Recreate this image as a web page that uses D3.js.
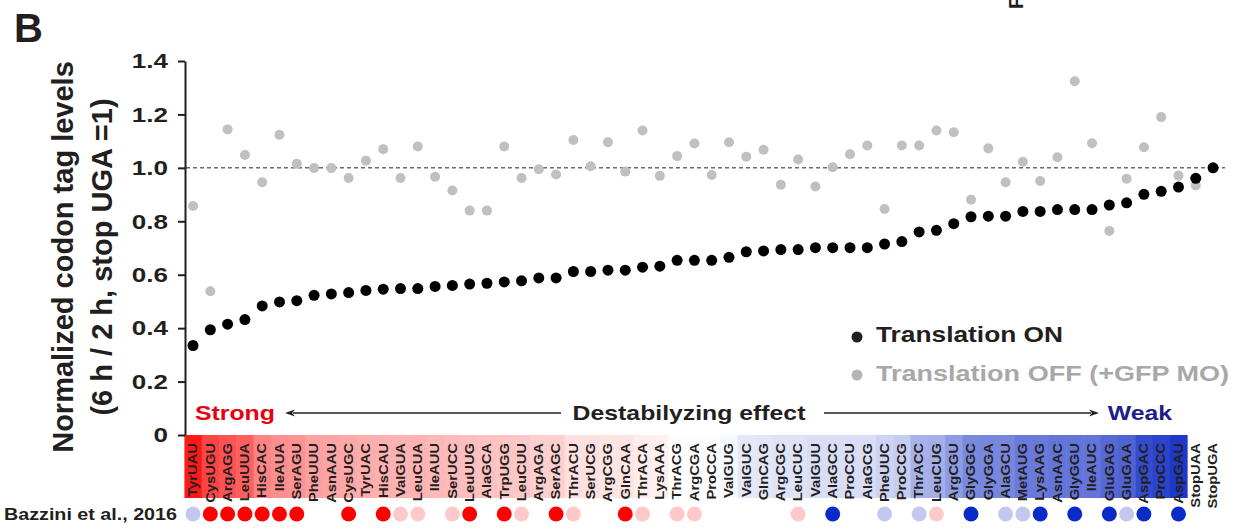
<!DOCTYPE html>
<html>
<head>
<meta charset="utf-8">
<script src="https://cdn.jsdelivr.net/npm/d3@7"></script>
<style>
  body { margin: 0; background: #fff; }
  svg text { font-family: "Liberation Sans", Arial, sans-serif; font-weight: bold; }
</style>
</head>
<body>
<div class="displayArea"></div>
<script>
// codons, sorted by translation ON level
var codons = ["TyrUAU","CysUGU","ArgAGG","LeuUUA","HisCAC","IleAUA","SerAGU","PheUUU","AsnAAU","CysUGC",
  "TyrUAC","HisCAU","ValGUA","LeuCUA","IleAUU","SerUCC","LeuUUG","AlaGCA","TrpUGG","LeuCUU",
  "ArgAGA","SerAGC","ThrACU","SerUCG","ArgCGG","GlnCAA","ThrACA","LysAAA","ThrACG","ArgCGA",
  "ProCCA","ValGUG","ValGUC","GlnCAG","ArgCGC","LeuCUC","ValGUU","AlaGCC","ProCCU","AlaGCG",
  "PheUUC","ProCCG","ThrACC","LeuCUG","ArgCGU","GlyGGC","GlyGGA","AlaGCU","MetAUG","LysAAG",
  "AsnAAC","GlyGGU","IleAUC","GluGAG","GluGAA","AspGAC","ProCCC","AspGAU","StopUAA","StopUGA"];

var transOn = [0.335,0.394,0.415,0.432,0.483,0.498,0.503,0.523,0.528,0.533,
  0.541,0.546,0.548,0.548,0.556,0.560,0.565,0.568,0.573,0.577,
  0.588,0.588,0.612,0.612,0.617,0.617,0.628,0.632,0.654,0.654,
  0.654,0.665,0.686,0.689,0.694,0.694,0.701,0.701,0.701,0.701,
  0.715,0.724,0.760,0.766,0.791,0.817,0.819,0.819,0.837,0.837,
  0.844,0.844,0.844,0.861,0.869,0.901,0.912,0.928,0.961,1.0];

var transOff = [0.857,0.538,1.144,1.048,0.946,1.124,1.015,0.999,0.999,0.962,
  1.027,1.070,0.962,1.080,0.967,0.915,0.840,0.840,1.080,0.962,
  0.995,0.975,1.104,1.006,1.096,0.986,1.140,0.970,1.044,1.091,
  0.973,1.096,1.042,1.068,0.937,1.031,0.930,1.002,1.051,1.084,
  0.846,1.084,1.084,1.140,1.133,0.881,1.073,0.946,1.023,0.951,
  1.040,1.324,1.092,0.764,0.959,1.077,1.190,0.971,0.934,1.0];

// Bazzini et al. 2016 call: 2 strong destab, 1 mild, -1 mild stab, -2 stab, 0 none
var bazzini = [-1,2,2,2,2,2,2,0,0,2, 0,2,1,1,0,1,2,0,2,1,
  0,2,1,0,0,2,1,0,1,1, 0,0,0,0,0,1,0,-2,0,0,
  -1,0,-1,1,0,-2,0,-1,-1,-2, 0,-2,0,-2,-1,-2,0,-2,0,0];

var yTicks = [0,0.2,0.4,0.6,0.8,1.0,1.2,1.4];

var ink = "#231f20",
    sx = 1.24; // horizontal text looks wider than Arial

var svg = d3.select(".displayArea").append("svg")
    .attr("width", 1236).attr("height", 529);

var x = d3.scaleBand().domain(codons).range([184.4, 1221.7]);
var y = d3.scaleLinear().domain([0, 1.4]).range([435, 61]);
var cx = function (c) { return x(c) + x.bandwidth() / 2; };

function wideText(px, py, str, size, anchor, fill) {
    return svg.append("text")
        .attr("transform", `translate(${px},${py}) scale(${sx},1)`)
        .attr("text-anchor", anchor)
        .attr("font-size", size)
        .attr("fill", fill)
        .text(str);
}

// fitted text: stretched to the width it has in the figure
function fitText(px, py, str, size, len, fill) {
    return svg.append("text")
        .attr("x", px).attr("y", py)
        .attr("font-size", size)
        .attr("textLength", len)
        .attr("lengthAdjust", "spacingAndGlyphs")
        .attr("fill", fill)
        .text(str);
}

// panel letter + fragment of neighbouring panel
svg.append("text").attr("x", 14).attr("y", 42).attr("font-size", 40).attr("fill", ink).text("B");
svg.append("text").attr("transform", "translate(1023,9) rotate(-90)")
    .attr("font-size", 20).attr("fill", ink).text("F");

// heat strip
var heatCodons = codons.filter(function (c) { return c.indexOf("Stop") !== 0; });
var heat = d3.scaleLinear().domain([0.335, 0.655, 0.928])
    .range(["#ff1a1a", "#ffffff", "#1e38c8"]).clamp(true);

svg.append("g").selectAll("rect").data(heatCodons).enter().append("rect")
    .attr("x", function (d) { return x(d); })
    .attr("y", 435)
    .attr("width", x.bandwidth() + 0.5)
    .attr("height", 63)
    .attr("fill", function (d, i) { return heat(transOn[i]); });

svg.append("g").selectAll("text").data(codons).enter().append("text")
    .attr("transform", function (d) { return `translate(${cx(d) + 4.3},443) rotate(-90) scale(1.23,1)`; })
    .attr("text-anchor", "end")
    .attr("font-size", 12)
    .attr("fill", ink)
    .text(function (d) { return d; });

// y axis
var yAxis = d3.axisLeft(y).tickValues(yTicks).tickSize(7).tickSizeOuter(0).tickPadding(6.7)
    .tickFormat(function (d) { return d === 0 ? "0" : d3.format(".1f")(d); });

var ag = svg.append("g").attr("transform", "translate(185,0)").call(yAxis);
ag.select(".domain").attr("stroke", ink).attr("stroke-width", 2);
ag.selectAll(".tick line").attr("stroke", ink).attr("stroke-width", 2);
ag.selectAll(".tick text")
    .attr("font-size", 21).attr("font-family", null).attr("fill", ink)
    .attr("transform", `scale(${sx},1)`);

svg.append("text")
    .attr("transform", "translate(73,257) rotate(-90)")
    .attr("text-anchor", "middle").attr("font-size", 29).attr("fill", ink)
    .text("Normalized codon tag levels");
svg.append("text")
    .attr("transform", "translate(112,257) rotate(-90)")
    .attr("text-anchor", "middle").attr("font-size", 29).attr("fill", ink)
    .text("(6 h / 2 h, stop UGA =1)");

// reference line at 1
svg.append("line")
    .attr("x1", 186).attr("x2", 1225)
    .attr("y1", y(1)).attr("y2", y(1))
    .attr("stroke", ink).attr("stroke-width", 1).attr("stroke-dasharray", "4,3");

// points
svg.append("g").selectAll("circle").data(codons).enter().append("circle")
    .attr("cx", cx)
    .attr("cy", function (d, i) { return y(transOff[i]); })
    .attr("r", 5).attr("fill", "#c0c0c0");

svg.append("g").selectAll("circle").data(codons).enter().append("circle")
    .attr("cx", cx)
    .attr("cy", function (d, i) { return y(transOn[i]); })
    .attr("r", 5.5).attr("fill", "#000");

// legend
svg.append("circle").attr("cx", 857).attr("cy", 337).attr("r", 5.5).attr("fill", ink);
fitText(876, 342, "Translation ON", 22, 187, ink);
svg.append("circle").attr("cx", 857).attr("cy", 375).attr("r", 5.5).attr("fill", "#b5b5b5");
fitText(876, 381, "Translation OFF (+GFP MO)", 22, 353, "#a8a8a8");

// destabilizing effect arrow row
wideText(195, 420, "Strong", 20, "start", "#e60012");
wideText(689, 420, "Destabilyzing effect", 20, "middle", ink);
wideText(1172, 420, "Weak", 20, "end", "#1d2088");

function arrow(x1, x2, yy) {
    var dir = x2 > x1 ? 1 : -1;
    svg.append("line").attr("x1", x1).attr("x2", x2 - dir * 8).attr("y1", yy).attr("y2", yy)
        .attr("stroke", ink).attr("stroke-width", 1.5);
    svg.append("path")
        .attr("d", `M${x2},${yy} L${x2 - dir * 10},${yy - 3.5} L${x2 - dir * 7},${yy} L${x2 - dir * 10},${yy + 3.5} Z`)
        .attr("fill", ink);
}
arrow(561, 285, 413);
arrow(824, 1099, 413);

// Bazzini row
fitText(4, 520, "Bazzini et al., 2016", 16.5, 173, ink);
var bzColor = d3.scaleOrdinal().domain([2, 1, -1, -2])
    .range(["#ff0000", "#ffc9c9", "#c3c8ee", "#0a2bc8"]);
svg.append("g").selectAll("circle")
    .data(codons.filter(function (d, i) { return bazzini[i] !== 0; }))
    .enter().append("circle")
    .attr("cx", cx)
    .attr("cy", 514)
    .attr("r", 7.5)
    .attr("fill", function (d) { return bzColor(bazzini[codons.indexOf(d)]); });
</script>
</body>
</html>
